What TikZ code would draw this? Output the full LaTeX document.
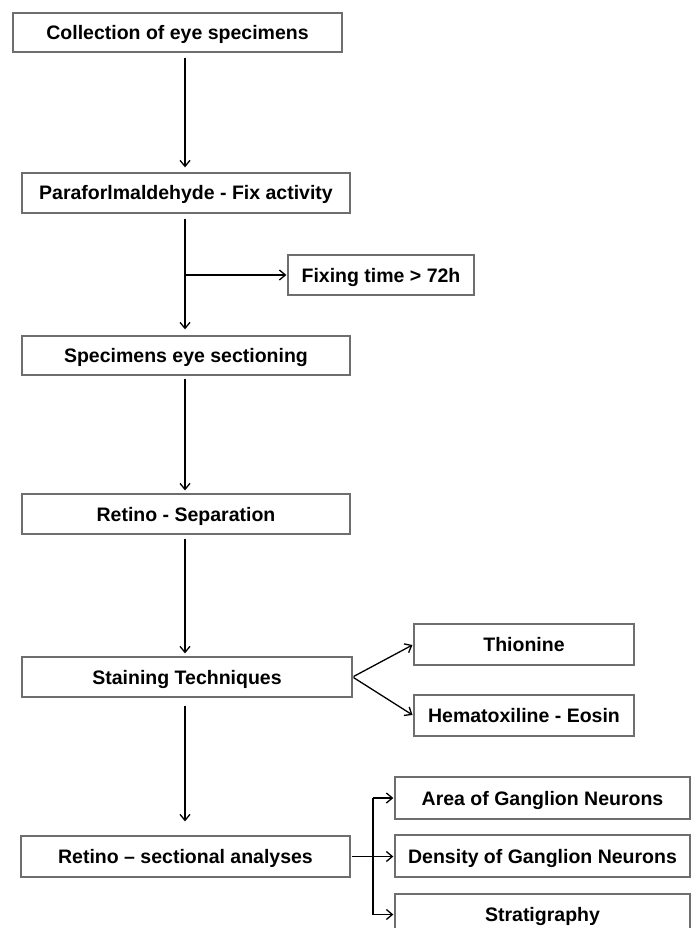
\documentclass[tikz,border=0pt]{standalone}
\usepackage{fontspec}
\setmainfont{Liberation Sans}
\usetikzlibrary{arrows.meta}
\definecolor{boxgray}{RGB}{110,110,110}
\begin{document}
\begin{tikzpicture}[x=1pt,y=-1pt,
  box/.style={draw=boxgray, line width=1.3pt, fill=white, minimum width=#1, minimum height=40pt, inner sep=0pt, text height=14pt, text depth=0pt, font=\fontsize{19.5}{22}\selectfont\bfseries, text=black},
  conn/.style={line width=1.3pt, draw=black, -{Straight Barb[length=6pt,width=10pt,line width=1.3pt]}},
  plain/.style={line width=1.3pt, draw=black},
]
\useasboundingbox (0,0) rectangle (691,928);
\node[box=329pt, minimum height=39pt] (b1) at (177.5,32.5) {Collection of eye specimens};
\node[box=328pt] (b2) at (186,193) {Paraforlmaldehyde - Fix activity};
\node[box=186pt] (ft) at (381,275) {Fixing time > 72h};
\node[box=328pt, minimum height=39pt] (b3) at (186,355.5) {Specimens eye sectioning};
\node[box=328pt] (b4) at (186,514) {Retino - Separation};
\node[box=330pt] (b5) at (187,677) {Staining Techniques};
\node[box=220pt, minimum height=41pt] (th) at (524,644.5) {Thionine};
\node[box=220pt, minimum height=41pt] (he) at (524,715.5) {Hematoxiline - Eosin};
\node[box=329pt, minimum height=41pt] (b6) at (185.5,856.5) {Retino – sectional analyses};
\node[box=295pt, minimum height=42pt] (area) at (542.5,798) {Area of Ganglion Neurons};
\node[box=295pt, minimum height=42pt] (dens) at (542.5,856) {Density of Ganglion Neurons};
\node[box=295pt, minimum height=41pt] (strat) at (542.5,914.5) {Stratigraphy};

\coordinate (ax) at (185,0);
\coordinate (bx) at (373,0);

\draw[conn, shorten <=5pt, shorten >=5pt] (b1.south -| ax) -- (b2.north -| ax);
\draw[conn, shorten <=5pt, shorten >=6pt] (b2.south -| ax) -- (b3.north -| ax);
\draw[conn, shorten >=1pt] (ft.west -| ax) -- (ft.west);
\draw[conn, shorten <=3pt, shorten >=3pt] (b3.south -| ax) -- (b4.north -| ax);
\draw[conn, shorten <=4pt, shorten >=3pt] (b4.south -| ax) -- (b5.north -| ax);
\draw[conn, shorten <=8pt, shorten >=14pt] (b5.south -| ax) -- (b6.north -| ax);
\draw[conn, shorten <=1pt, shorten >=1pt] (b5.east) -- (th.west);
\draw[conn, shorten <=1pt, shorten >=1pt] (b5.east) -- (he.west);
\draw[conn, shorten <=1pt, shorten >=1pt] (b6.east) -- (b6.east -| dens.west);
\draw[plain] (area.west -| bx) -- (strat.west -| bx);
\draw[conn, shorten >=1pt] (area.west -| bx) -- (area.west);
\draw[conn, shorten >=1pt] (strat.west -| bx) -- (strat.west);
\end{tikzpicture}
\end{document}
